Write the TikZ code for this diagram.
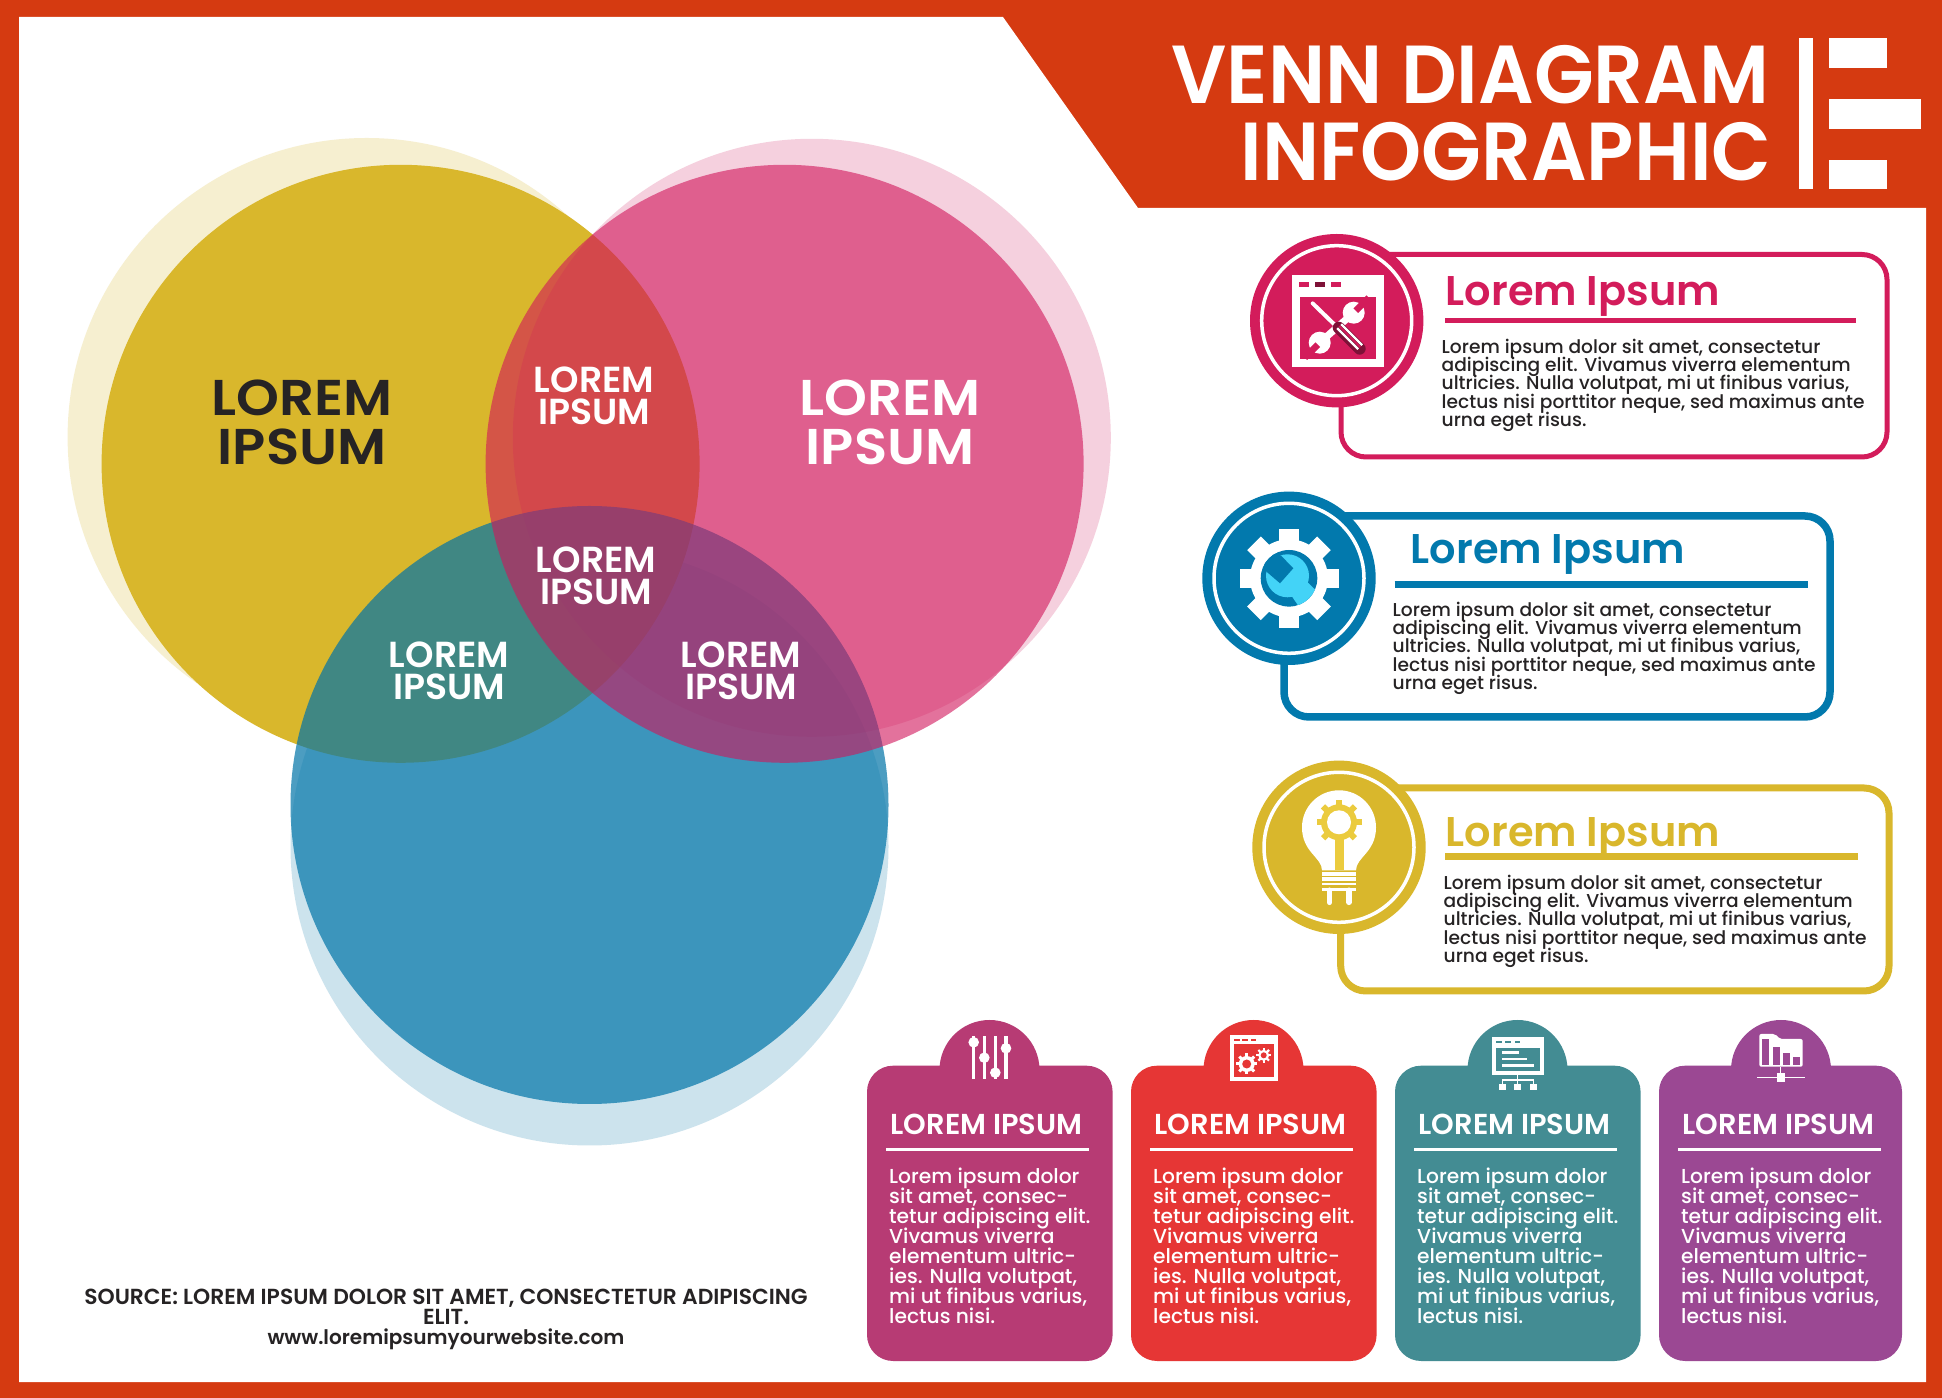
\documentclass[tikz,border=0pt]{standalone}
\usepackage{fontspec}
\setmainfont{Poppins}[BoldFont={Poppins SemiBold}]
\newfontfamily\bodyfont{Poppins Medium}
\usetikzlibrary{calc}
\definecolor{frame}{HTML}{D53A11}
\definecolor{ink}{HTML}{262324}
\definecolor{gold}{HTML}{D9B72C}
\definecolor{rose}{HTML}{D1155A}
\definecolor{sky}{HTML}{0074A8}
\definecolor{crimson}{HTML}{D31C5B}
\definecolor{ocean}{HTML}{0279AD}
\definecolor{aqua}{HTML}{43D3F7}
\definecolor{paleg}{HTML}{EBCB3E}
\definecolor{plum}{HTML}{B73B74}
\definecolor{tomato}{HTML}{E63635}
\definecolor{teal}{HTML}{438C93}
\definecolor{violet}{HTML}{9B4893}
\newcommand{\tight}{\lineskiplimit=-8pt}
\tikzset{
  headA/.style={text=white, inner sep=0pt, font=\bfseries\fontsize{23.4}{23.4}\selectfont, xscale=0.945, transform shape},
  vennB/.style={inner sep=0pt, align=center, font=\bfseries\fontsize{14.3}{13.9}\selectfont\tight, xscale=1.085, transform shape},
  vennS/.style={text=white, inner sep=0pt, align=center, font=\bfseries\fontsize{10.3}{9.25}\selectfont\tight},
  boxT/.style={inner sep=0pt, font=\bfseries\fontsize{11.8}{11.8}\selectfont},
  boxB/.style={text=ink, inner sep=0pt, align=left, font=\bodyfont\fontsize{5.3}{5.23}\selectfont\tight},
  cardT/.style={text=white, inner sep=0pt, font=\bfseries\fontsize{8.2}{8.2}\selectfont},
  cardB/.style={text=white, inner sep=0pt, align=left, font=\bodyfont\fontsize{5.75}{5.71}\selectfont\tight},
  srcT/.style={text=ink, inner sep=0pt, align=center, font=\bfseries\fontsize{6.2}{5.7}\selectfont\tight},
  panel/.style={fill=white, rounded corners=0.25cm}
}
\newcommand{\boxtext}{Lorem ipsum dolor sit amet, consectetur\\adipiscing elit. Vivamus viverra elementum\\ultricies. Nulla volutpat, mi ut finibus varius,\\lectus nisi porttitor neque, sed maximus ante\\urna eget risus.}
\newcommand{\cardtext}{Lorem ipsum dolor\\sit amet, consec-\\tetur adipiscing elit.\\Vivamus viverra\\elementum ultric-\\ies. Nulla volutpat,\\mi ut finibus varius,\\lectus nisi.}
% colour, centre x, centre y, body, tooth tip, tooth width, step
\newcommand{\cog}[7]{
  \fill[#1] (#2,#3) circle (#4);
  \foreach \a in {0,#7,...,359}
    \fill[#1, shift={(#2,#3)}, rotate=\a] (-#6/2,0) rectangle (#6/2,#5);
}
\begin{document}
\begin{tikzpicture}[x=0.01cm,y=-0.01cm]
  \useasboundingbox (0,0) rectangle (1942,1398);
  \fill[frame] (0,0) rectangle (1942,1398);
  \fill[white] (19,17) -- (1003,17) -- (1138,208) -- (1926,208) -- (1926,1382) -- (19,1382) -- cycle;

  % title
  \node[headA, anchor=base east] (title1) at (1770,104) {VENN DIAGRAM};
  \node[headA, anchor=base east] (title2) at (1772,181) {INFOGRAPHIC};
  \fill[white] (1799,38) rectangle (1812.6,189);
  \fill[white] (1829.4,38.3) rectangle (1887,67.7);
  \fill[white] (1829.4,99.3) rectangle (1920.7,128.7);
  \fill[white] (1829.4,160) rectangle (1887,189.3);

  % venn circles
  \fill[sky, opacity=0.2] (589.5,846.5) circle (299);
  \fill[gold] (400.6,463.8) circle (299);
  \fill[gold, opacity=0.22] (366.6,437) circle (299);
  \fill[rose, opacity=0.2] (811.8,437.8) circle (299);
  \fill[sky, opacity=0.7] (589.5,805) circle (299);
  \fill[rose, opacity=0.6] (784.6,463.8) circle (299);

  \node[vennB, text=ink, anchor=north] (vennA) at (302,379) {LOREM\\IPSUM};
  \node[vennB, text=white, anchor=north] (vennC) at (890,379) {LOREM\\IPSUM};
  \node[vennS, anchor=north] (vennAC) at (594,366) {LOREM\\IPSUM};
  \node[vennS, anchor=north] (vennABC) at (596,546) {LOREM\\IPSUM};
  \node[vennS, anchor=north] (vennAB) at (449,641) {LOREM\\IPSUM};
  \node[vennS, anchor=north] (vennBC) at (741,641) {LOREM\\IPSUM};

  \node[srcT, anchor=north] (source) at (446,1288) {SOURCE: LOREM IPSUM DOLOR SIT AMET, CONSECTETUR ADIPISCING\\ELIT.\\\fontsize{5.7}{5.7}\selectfont www.loremipsumyourwebsite.com};

  % panel one
  \draw[panel, draw=crimson, line width=0.05cm] (1341,254.5) rectangle (1887,457);
  \fill[crimson] (1336.7,320.7) circle (86.7);
  \draw[white, line width=0.035cm] (1336.7,320.7) circle (75);
  \draw[crimson, line width=0.05cm] (1445,320.7) -- (1856,320.7);
  \node[boxT, text=crimson, anchor=base west] (nameA) at (1445,306) {Lorem Ipsum};
  \node[boxB, anchor=north west] (textA) at (1441,338) {\boxtext};
  \begin{scope}[shift={(1336.7,320.7)}]
    \fill[white] (-45,-45.7) rectangle (47,46);
    \fill[crimson] (-36.7,-24) rectangle (39.3,38.3);
    \fill[crimson] (-37.3,-39) rectangle (-27.3,-33.7);
    \fill[crimson!60!black] (-21.3,-39) rectangle (-11.3,-33.7);
    \fill[crimson] (-5.3,-39) rectangle (4.3,-33.7);
    % wrench
    \draw[white, line width=0.07cm] (-17,22) -- (17,-8);
    \fill[white] (17,-8) circle (11);
    \fill[white] (-17,22) circle (11);
    \draw[crimson, line width=0.065cm] (19,-10) -- (32,-23);
    \draw[crimson, line width=0.065cm] (-19,24) -- (-32,37);
    % screwdriver
    \draw[white, line width=0.04cm, line cap=round] (-24,-17.3) -- (0,6);
    \draw[crimson!60!black, line width=0.12cm, line cap=round] (2,7) -- (23,28);
    \draw[white, line width=0.022cm] (4.5,3.5) -- (25.5,24.5);
    \draw[white, line width=0.022cm] (0.5,7.5) -- (21.5,28.5);
    \draw[crimson, line width=0.018cm] (2.5,5.5) -- (23.5,26.5);
  \end{scope}

  % panel two
  \draw[panel, draw=ocean, line width=0.075cm] (1284,516) rectangle (1830,717);
  \fill[ocean] (1289,578.3) circle (86.7);
  \draw[white, line width=0.035cm] (1289,578.3) circle (75);
  \draw[ocean, line width=0.075cm] (1394.5,584.6) -- (1808,584.6);
  \node[boxT, text=ocean, anchor=base west] (nameB) at (1410,564) {Lorem Ipsum};
  \node[boxB, anchor=north west] (textB) at (1392,601) {\boxtext};
  \cog{white}{1289}{578.3}{39}{49.5}{19.3}{45}
  \begin{scope}[shift={(1289,578.3)}]
    \fill[ocean] (0,0) circle (28.3);
    \clip (0,0) circle (28.3);
    \fill[aqua] (-1.5,-2.5) circle (21.5);
    \fill[aqua] (2,16.7) -- (11,30) -- (30,15) -- (14.3,0) -- cycle;
    \fill[ocean] (-23.3,-7.3) -- (-9,5) -- (4.3,-10) -- (-8,-22.7) -- (-30,-30) -- cycle;
  \end{scope}

  % panel three
  \draw[panel, draw=gold, line width=0.07cm] (1340.7,788) rectangle (1889,991);
  \fill[gold] (1339,847.3) circle (86.7);
  \draw[white, line width=0.035cm] (1339,847.3) circle (75);
  \draw[gold, line width=0.07cm] (1445,857) -- (1858,857);
  \node[boxT, text=gold, anchor=base west] (nameC) at (1445,847) {Lorem Ipsum};
  \node[boxB, anchor=north west] (textC) at (1443,874) {\boxtext};
  \begin{scope}[shift={(1339,847.3)}]
    \fill[white] (-17,23) .. controls (-17,10) and (-37,5) .. (-37,-20) arc[start angle=180, end angle=360, radius=37] .. controls (37,5) and (17,10) .. (17,23) -- cycle;
    \fill[paleg] (-4.5,-10) rectangle (4.5,23);
    \foreach \ya/\yb in {28.3/24.3, 33.7/30, 38/36, 43.3/41}
      \fill[white] (-17,\ya) rectangle (17,\yb);
    \draw[white, line width=0.056cm, line cap=round] (-9.5,43) -- (-9.5,55);
    \draw[white, line width=0.056cm, line cap=round] (9.9,43) -- (9.9,55);
  \end{scope}
  \cog{paleg}{1339}{822.3}{18}{22.5}{6}{45}
  \fill[white] (1339,822.3) circle (12);

  % cards
  \foreach \n/\cx/\barx/\col/\rx in {a/0/989.5/plum/1112.6, b/264/1253.5/tomato/1376.6, c/528/1517.5/teal/1640.6, d/792/1781/violet/1902}{
    \fill[\col, rounded corners=0.26cm] (867+\cx,1065.7) rectangle (\rx,1361);
    \fill[\col] (\barx,1070) circle (50);
    \node[cardT, anchor=base west] (card\n) at (890+\cx,1135) {LOREM IPSUM};
    \draw[white, line width=0.035cm] (886+\cx,1149.7) -- (1089+\cx,1149.7);
    \node[cardB, anchor=north west] (body\n) at (888.5+\cx,1167) {\cardtext};
  }

  % card icons
  \foreach \px/\py in {973.7/1042.3, 984.3/1057.7, 995.3/1072.7, 1006/1048.3}{
    \fill[white] (\px-1.7,1036) rectangle (\px+1.7,1079.3);
    \fill[white] (\px,\py) circle (5.3);
  }
  \fill[white] (1230,1035) rectangle (1278.3,1080.7);
  \fill[tomato] (1234,1044.3) rectangle (1274.3,1076.7);
  \foreach \px/\qx in {1234/1240, 1242.3/1247.7, 1250.7/1255.7}
    \fill[tomato] (\px,1039) rectangle (\qx,1041.3);
  \cog{white}{1246.7}{1064}{8}{10.5}{3}{45}
  \fill[tomato] (1246.7,1064) circle (4.5);
  \cog{white}{1263.7}{1055.3}{5.5}{7.5}{2.2}{45}
  \fill[tomato] (1263.7,1055.3) circle (3);

  \fill[white] (1491.7,1036.7) rectangle (1544.3,1075);
  \fill[teal] (1495.7,1047.7) rectangle (1540,1071);
  \foreach \px/\qx in {1496/1501.7, 1505.3/1511, 1514.7/1520}
    \fill[teal] (\px,1040.7) rectangle (\qx,1043.3);
  \fill[white] (1501.7,1051.3) rectangle (1519,1053.7);
  \fill[white] (1501.7,1058) rectangle (1526.7,1060.3);
  \fill[white] (1501.7,1064) rectangle (1534.3,1066.7);
  \draw[white, line width=0.015cm] (1517.7,1075) -- (1517.7,1085);
  \draw[white, line width=0.015cm] (1502.3,1085) -- (1502.3,1080) -- (1533.3,1080) -- (1533.3,1085);
  \foreach \px in {1502.3,1517.7,1533.3}
    \fill[white] (\px-3.4,1084) rectangle (\px+3.4,1090.3);

  \fill[white, rounded corners=0.02cm] (1759.3,1034) -- (1775,1034) -- (1780,1039) -- (1802.7,1039) -- (1802.7,1066.7) -- (1759.3,1066.7) -- cycle;
  \fill[violet] (1762.3,1039) rectangle (1769.3,1065);
  \fill[violet] (1773.3,1046.7) rectangle (1780,1065);
  \fill[violet] (1783.3,1052.7) rectangle (1790,1065);
  \fill[violet] (1793.3,1057.3) rectangle (1800,1065);
  \draw[white, line width=0.015cm] (1780.7,1066.7) -- (1780.7,1077);
  \draw[white, line width=0.015cm] (1757.3,1077.3) -- (1805,1077.3);
  \fill[white] (1776.7,1073.3) rectangle (1785,1081.7);
\end{tikzpicture}
\end{document}
